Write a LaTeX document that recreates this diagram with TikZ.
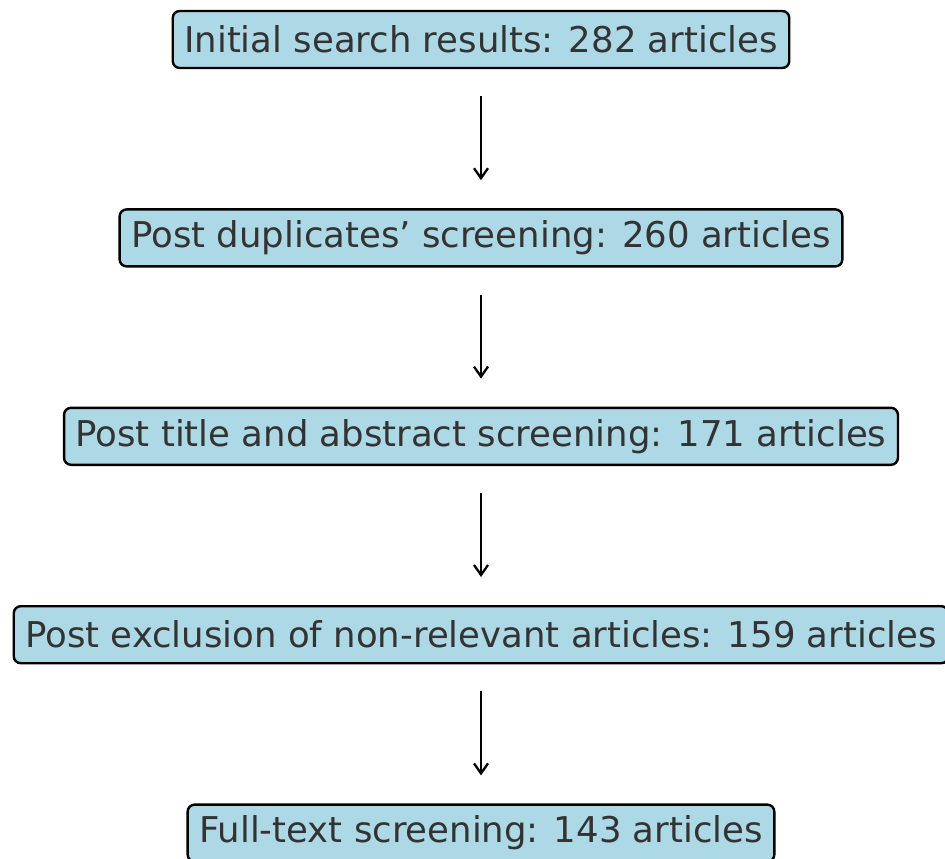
\documentclass[tikz,border=0pt]{standalone}
\usepackage{fontspec}
\setmainfont{DejaVu Sans}
\usetikzlibrary{positioning,arrows.meta}
\definecolor{boxblue}{HTML}{ADD8E6}
\definecolor{boxtext}{HTML}{333333}

\begin{document}
\begin{tikzpicture}[x=1pt,y=1pt,
	stage/.style={draw=black, fill=boxblue, rounded corners=7pt, line width=2.4pt,
		text=boxtext, font=\fontsize{35.5}{40}\selectfont,
		minimum height=57pt, inner xsep=11.5pt, inner ysep=0pt},
	flow/.style={-{Straight Barb[length=10pt,width=14pt]}, line width=2.3pt,
		shorten <=27pt, shorten >=28pt},
	node distance=139pt
	]
	\useasboundingbox (0,0) rectangle (945,-859);
	
	\node[stage] (initial) at (481,-39.5) {Initial search results: 282 articles};
	\node[stage, below=of initial] (dupl) {Post duplicates’ screening: 260 articles};
	\node[stage, below=of dupl] (title) {Post title and abstract screening: 171 articles};
	\node[stage, below=of title] (excl) {Post exclusion of non-relevant articles: 159 articles};
	\node[stage, below=of excl] (full) {Full-text screening: 143 articles};
	
	\draw[flow] (initial) -- (dupl);
	\draw[flow] (dupl) -- (title);
	\draw[flow] (title) -- (excl);
	\draw[flow] (excl) -- (full);
\end{tikzpicture}
\end{document}
